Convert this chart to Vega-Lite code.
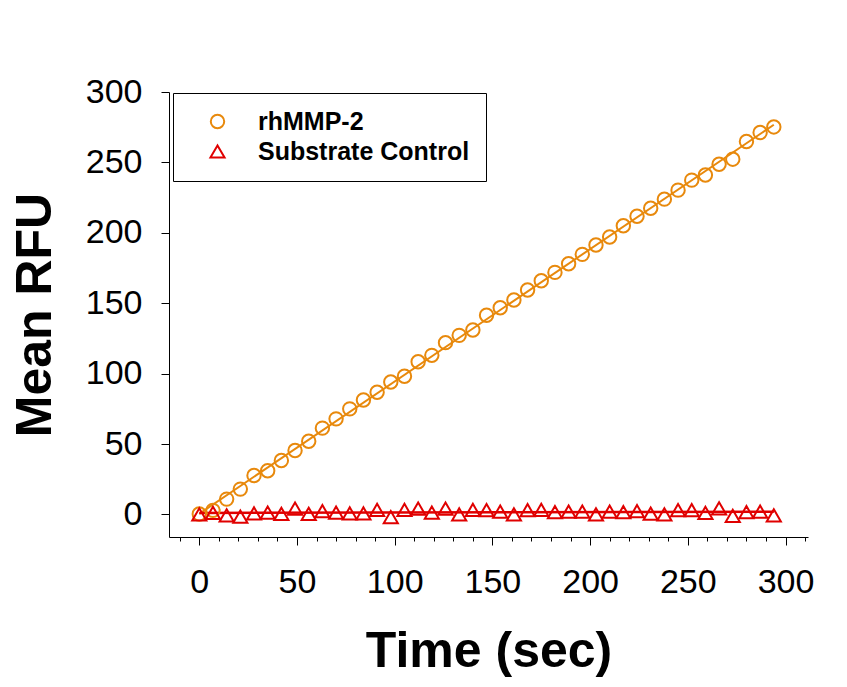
{
  "$schema": "https://vega.github.io/schema/vega-lite/v6.json",
  "autosize": "none",
  "padding": {"left": 169, "top": 92, "right": 39, "bottom": 150},
  "width": 639,
  "height": 445,
  "background": "white",
  "config": {
    "view": {"stroke": null},
    "font": "Liberation Sans",
    "axis": {"grid": false, "domainColor": "black", "tickColor": "black", "labelColor": "black", "titleColor": "black", "labelFont": "Liberation Sans", "titleFont": "Liberation Sans"}
  },
  "resolve": {"axis": {"x": "independent"}},
  "data": {"values": [
    {"t":0,"v":0.3,"s":"rhMMP-2"},{"t":7,"v":2.9,"s":"rhMMP-2"},{"t":14,"v":10.9,"s":"rhMMP-2"},{"t":21,"v":18.0,"s":"rhMMP-2"},{"t":28,"v":27.7,"s":"rhMMP-2"},{"t":35,"v":31.0,"s":"rhMMP-2"},{"t":42,"v":38.3,"s":"rhMMP-2"},{"t":49,"v":45.4,"s":"rhMMP-2"},{"t":56,"v":52.0,"s":"rhMMP-2"},{"t":63,"v":61.3,"s":"rhMMP-2"},{"t":70,"v":67.9,"s":"rhMMP-2"},{"t":77,"v":75.0,"s":"rhMMP-2"},{"t":84,"v":81.3,"s":"rhMMP-2"},{"t":91,"v":86.8,"s":"rhMMP-2"},{"t":98,"v":94.1,"s":"rhMMP-2"},{"t":105,"v":98.1,"s":"rhMMP-2"},{"t":112,"v":108.5,"s":"rhMMP-2"},{"t":119,"v":113.0,"s":"rhMMP-2"},{"t":126,"v":122.0,"s":"rhMMP-2"},{"t":133,"v":127.2,"s":"rhMMP-2"},{"t":140,"v":131.0,"s":"rhMMP-2"},{"t":147,"v":141.5,"s":"rhMMP-2"},{"t":154,"v":146.8,"s":"rhMMP-2"},{"t":161,"v":152.3,"s":"rhMMP-2"},{"t":168,"v":159.4,"s":"rhMMP-2"},{"t":175,"v":166.0,"s":"rhMMP-2"},{"t":182,"v":171.9,"s":"rhMMP-2"},{"t":189,"v":178.0,"s":"rhMMP-2"},{"t":196,"v":184.7,"s":"rhMMP-2"},{"t":203,"v":191.3,"s":"rhMMP-2"},{"t":210,"v":197.0,"s":"rhMMP-2"},{"t":217,"v":205.0,"s":"rhMMP-2"},{"t":224,"v":211.8,"s":"rhMMP-2"},{"t":231,"v":217.5,"s":"rhMMP-2"},{"t":238,"v":223.9,"s":"rhMMP-2"},{"t":245,"v":230.3,"s":"rhMMP-2"},{"t":252,"v":237.4,"s":"rhMMP-2"},{"t":259,"v":241.1,"s":"rhMMP-2"},{"t":266,"v":248.7,"s":"rhMMP-2"},{"t":273,"v":252.3,"s":"rhMMP-2"},{"t":280,"v":264.8,"s":"rhMMP-2"},{"t":287,"v":271.2,"s":"rhMMP-2"},{"t":294,"v":275.2,"s":"rhMMP-2"},
    {"t":0,"v":0.0,"s":"Substrate Control"},{"t":7,"v":1.2,"s":"Substrate Control"},{"t":14,"v":-0.6,"s":"Substrate Control"},{"t":21,"v":-1.6,"s":"Substrate Control"},{"t":28,"v":0.7,"s":"Substrate Control"},{"t":35,"v":1.3,"s":"Substrate Control"},{"t":42,"v":0.5,"s":"Substrate Control"},{"t":49,"v":4.2,"s":"Substrate Control"},{"t":56,"v":0.5,"s":"Substrate Control"},{"t":63,"v":2.3,"s":"Substrate Control"},{"t":70,"v":1.3,"s":"Substrate Control"},{"t":77,"v":0.7,"s":"Substrate Control"},{"t":84,"v":0.7,"s":"Substrate Control"},{"t":91,"v":3.2,"s":"Substrate Control"},{"t":98,"v":-1.8,"s":"Substrate Control"},{"t":105,"v":3.2,"s":"Substrate Control"},{"t":112,"v":4.2,"s":"Substrate Control"},{"t":119,"v":1.3,"s":"Substrate Control"},{"t":126,"v":4.2,"s":"Substrate Control"},{"t":133,"v":0.0,"s":"Substrate Control"},{"t":140,"v":3.2,"s":"Substrate Control"},{"t":147,"v":3.1,"s":"Substrate Control"},{"t":154,"v":2.0,"s":"Substrate Control"},{"t":161,"v":0.1,"s":"Substrate Control"},{"t":168,"v":3.0,"s":"Substrate Control"},{"t":175,"v":3.2,"s":"Substrate Control"},{"t":182,"v":1.6,"s":"Substrate Control"},{"t":189,"v":2.0,"s":"Substrate Control"},{"t":196,"v":2.0,"s":"Substrate Control"},{"t":203,"v":0.1,"s":"Substrate Control"},{"t":210,"v":2.0,"s":"Substrate Control"},{"t":217,"v":1.6,"s":"Substrate Control"},{"t":224,"v":2.3,"s":"Substrate Control"},{"t":231,"v":0.6,"s":"Substrate Control"},{"t":238,"v":0.1,"s":"Substrate Control"},{"t":245,"v":3.0,"s":"Substrate Control"},{"t":252,"v":3.0,"s":"Substrate Control"},{"t":259,"v":1.1,"s":"Substrate Control"},{"t":266,"v":4.4,"s":"Substrate Control"},{"t":273,"v":-1.0,"s":"Substrate Control"},{"t":280,"v":1.6,"s":"Substrate Control"},{"t":287,"v":2.0,"s":"Substrate Control"},{"t":294,"v":-0.6,"s":"Substrate Control"}
  ]},
  "layer": [
    {
      "mark": {"type": "tick", "opacity": 0},
      "encoding": {
        "x": {"field": "t", "type": "quantitative", "scale": {"domain": [-15.5, 311.5], "nice": false, "zero": false},
          "axis": {"orient": "bottom", "values": [-10,0,10,20,30,40,50,60,70,80,90,100,110,120,130,140,150,160,170,180,190,200,210,220,230,240,250,260,270,280,290,300,310], "labels": false, "domain": false, "tickSize": 4, "title": null}}
      }
    },
    {
      "transform": [{"filter": "datum.s === 'rhMMP-2'"}, {"regression": "v", "on": "t", "extent": [0, 294]}],
      "mark": {"type": "line", "color": "#E8890C", "strokeWidth": 2},
      "encoding": {
        "x": {"field": "t", "type": "quantitative", "axis": null},
        "y": {"field": "v", "type": "quantitative"}
      }
    },
    {
      "transform": [{"filter": "datum.s === 'Substrate Control'"}, {"regression": "v", "on": "t", "extent": [0, 294]}],
      "mark": {"type": "line", "color": "#E00000", "strokeWidth": 2.5},
      "encoding": {
        "x": {"field": "t", "type": "quantitative", "axis": null},
        "y": {"field": "v", "type": "quantitative"}
      }
    },
    {
      "mark": {"type": "point", "filled": false, "strokeWidth": 2, "opacity": 1},
      "encoding": {
        "x": {"field": "t", "type": "quantitative",
          "axis": {"orient": "bottom", "values": [0,50,100,150,200,250,300], "tickSize": 8, "labelFontSize": 34, "labelPadding": 20, "title": "Time (sec)", "titleFontSize": 50, "titleFontWeight": "bold", "titlePadding": 27, "domainWidth": 1}},
        "y": {"field": "v", "type": "quantitative", "scale": {"domain": [-16, 300], "nice": false, "zero": false},
          "axis": {"values": [0,50,100,150,200,250,300], "tickSize": 8, "labelFontSize": 34, "labelPadding": 19, "title": "Mean RFU", "titleFontSize": 50, "titleFontWeight": "bold", "titlePadding": 25, "domainWidth": 1}},
        "color": {"field": "s", "type": "nominal", "scale": {"domain": ["rhMMP-2", "Substrate Control"], "range": ["#E8890C", "#E00000"]},
          "legend": {"title": null, "orient": "none", "legendX": 4, "legendY": 1, "strokeColor": "black", "fillColor": "white", "padding": 16, "symbolOffset": 16, "symbolSize": 130, "symbolStrokeWidth": 2, "symbolOpacity": 1, "labelFont": "Liberation Sans", "labelFontSize": 25, "labelFontWeight": "bold", "labelColor": "black", "labelOffset": 28, "labelLimit": 400, "rowPadding": 4}},
        "shape": {"field": "s", "type": "nominal", "scale": {"domain": ["rhMMP-2", "Substrate Control"], "range": ["circle", "triangle-up"]}},
        "size": {"field": "s", "type": "nominal", "scale": {"domain": ["rhMMP-2", "Substrate Control"], "range": [180, 200]}, "legend": null}
      }
    }
  ]
}
